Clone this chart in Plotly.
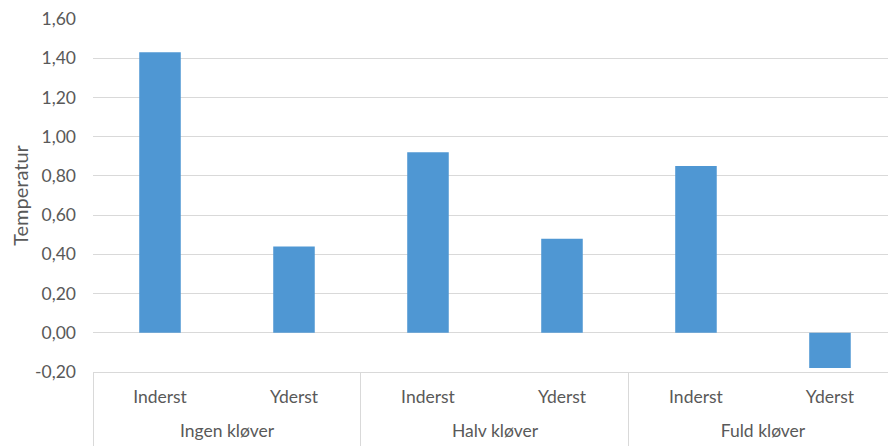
import plotly.graph_objects as go

groups = ["Ingen kløver", "Ingen kløver", "Halv kløver", "Halv kløver", "Fuld kløver", "Fuld kløver"]
positions = ["Inderst", "Yderst", "Inderst", "Yderst", "Inderst", "Yderst"]
values = [1.43, 0.44, 0.92, 0.48, 0.85, -0.18]
y_ticks = [-0.2, 0.0, 0.2, 0.4, 0.6, 0.8, 1.0, 1.2, 1.4, 1.6]
y_tick_labels = ["-0,20", "0,00", "0,20", "0,40", "0,60", "0,80", "1,00", "1,20", "1,40", "1,60"]

FONT = "Lato"
TXT = "#595959"
GRID = "#d9d9d9"
FS = 17.5

x_idx = list(range(len(values)))
group_names = list(dict.fromkeys(groups))
group_members = [[i for i, g in enumerate(groups) if g == name] for name in group_names]
group_centers = [sum(m) / len(m) for m in group_members]
group_bounds = [m[0] - 0.5 for m in group_members] + [group_members[-1][-1] + 0.5]

X_RANGE = [-0.5, 5.433]

fig = go.Figure(go.Bar(
    x=x_idx,
    y=values,
    marker=dict(color="#4f97d3", line=dict(width=0)),
    width=0.31,
))
# invisible helper traces to activate secondary x axes
fig.add_trace(go.Scatter(x=[], y=[], xaxis="x2", yaxis="y", showlegend=False, hoverinfo="skip"))
fig.add_trace(go.Scatter(x=[], y=[], xaxis="x3", yaxis="y", showlegend=False, hoverinfo="skip"))

fig.update_layout(
    width=888, height=446,
    margin=dict(l=93, r=0, t=19, b=74),
    paper_bgcolor="white", plot_bgcolor="white",
    font=dict(family=FONT, size=FS, color=TXT),
    showlegend=False,
    xaxis=dict(
        range=X_RANGE, automargin=False,
        tickvals=x_idx, ticktext=positions,
        showline=True, linecolor=GRID, linewidth=1,
        ticks="", showgrid=False, zeroline=False,
        ticklabelstandoff=9,
        tickfont=dict(family=FONT, size=FS, color=TXT),
    ),
    xaxis2=dict(
        overlaying="x", anchor="y", side="bottom",
        range=X_RANGE, automargin=False,
        tickvals=group_centers, ticktext=group_names,
        ticks="", showgrid=False, showline=False, zeroline=False,
        ticklabelstandoff=46,
        tickfont=dict(family=FONT, size=FS, color=TXT),
    ),
    xaxis3=dict(
        overlaying="x", anchor="y", side="bottom",
        range=X_RANGE, automargin=False,
        tickvals=group_bounds,
        ticks="outside", ticklen=74, tickwidth=1, tickcolor=GRID,
        showticklabels=False, showgrid=False, showline=False, zeroline=False,
    ),
    yaxis=dict(
        range=[-0.2, 1.6], automargin=False,
        tickvals=y_ticks,
        ticktext=y_tick_labels,
        showgrid=True, gridcolor=GRID, gridwidth=1,
        zeroline=True, zerolinecolor=GRID, zerolinewidth=1,
        showline=False, ticks="",
        ticklabelstandoff=16,
        title=dict(text="Temperatur", font=dict(family=FONT, size=20, color=TXT), standoff=1),
    ),
)

fig.write_html("out.html")
